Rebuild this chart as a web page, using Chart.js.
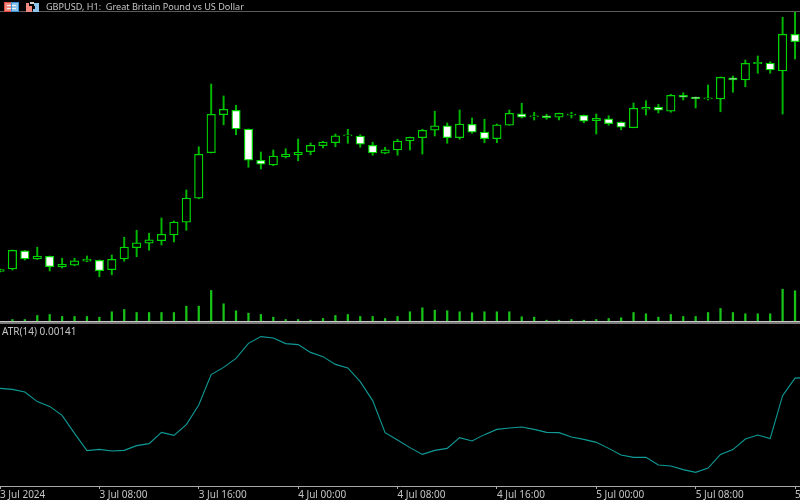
<!DOCTYPE html>
<html><head><meta charset="utf-8">
<style>html,body{margin:0;padding:0;background:#000}canvas{display:block}</style>
<script src="https://cdn.jsdelivr.net/npm/chart.js@4"></script>
</head><body><canvas id="c" width="800" height="500"></canvas>
<script>
const tickBars=[-1,7,15,23,31,39,47,55,63];
const tickLabels=['3 Jul 2024','3 Jul 08:00','3 Jul 16:00','4 Jul 00:00','4 Jul 08:00','4 Jul 16:00','5 Jul 00:00','5 Jul 08:00','5 Jul 16:00'];
const open=[1.26994,1.27004,1.27077,1.27044,1.27055,1.27012,1.27019,1.27035,1.27039,1.27001,1.27044,1.27089,1.27107,1.27117,1.27140,1.27191,1.27287,1.27469,1.27621,1.27639,1.27564,1.27439,1.27420,1.27453,1.27460,1.27473,1.27497,1.27509,1.27536,1.27536,1.27499,1.27467,1.27480,1.27516,1.27529,1.27559,1.27577,1.27529,1.27583,1.27552,1.27525,1.27579,1.27625,1.27612,1.27617,1.27611,1.27619,1.27619,1.27597,1.27605,1.27592,1.27569,1.27643,1.27652,1.27635,1.27699,1.27692,1.27684,1.27684,1.27769,1.27760,1.27825,1.27828,1.27796,1.27943];
const high=[1.27004,1.27080,1.27078,1.27091,1.27056,1.27047,1.27047,1.27056,1.27040,1.27060,1.27131,1.27159,1.27147,1.27208,1.27196,1.27320,1.27493,1.27744,1.27696,1.27659,1.27564,1.27472,1.27480,1.27485,1.27524,1.27508,1.27515,1.27544,1.27563,1.27541,1.27511,1.27491,1.27523,1.27532,1.27563,1.27635,1.27588,1.27640,1.27608,1.27603,1.27584,1.27640,1.27667,1.27631,1.27623,1.27628,1.27631,1.27620,1.27624,1.27617,1.27593,1.27668,1.27677,1.27663,1.27703,1.27709,1.27692,1.27740,1.27772,1.27776,1.27840,1.27856,1.27833,1.28011,1.28032];
const low=[1.26992,1.27000,1.27040,1.27042,1.26996,1.27008,1.27017,1.27033,1.26973,1.26981,1.27035,1.27053,1.27079,1.27100,1.27112,1.27159,1.27285,1.27468,1.27581,1.27541,1.27411,1.27404,1.27417,1.27448,1.27437,1.27461,1.27488,1.27493,1.27507,1.27491,1.27459,1.27465,1.27459,1.27480,1.27464,1.27536,1.27507,1.27523,1.27547,1.27509,1.27509,1.27579,1.27608,1.27600,1.27603,1.27600,1.27608,1.27589,1.27544,1.27579,1.27561,1.27569,1.27620,1.27628,1.27631,1.27680,1.27648,1.27680,1.27633,1.27711,1.27733,1.27787,1.27787,1.27624,1.27844];
const close=[1.27002,1.27079,1.27044,1.27056,1.27013,1.27023,1.27037,1.27044,1.26997,1.27043,1.27092,1.27109,1.27121,1.27143,1.27192,1.27288,1.27463,1.27623,1.27643,1.27564,1.27439,1.27423,1.27456,1.27464,1.27471,1.27499,1.27512,1.27537,1.27541,1.27503,1.27468,1.27481,1.27516,1.27531,1.27559,1.27577,1.27529,1.27584,1.27551,1.27525,1.27581,1.27627,1.27611,1.27617,1.27609,1.27627,1.27624,1.27595,1.27607,1.27585,1.27571,1.27647,1.27651,1.27639,1.27699,1.27691,1.27685,1.27689,1.27771,1.27760,1.27827,1.27831,1.27800,1.27943,1.27913];
const volume=[0,200,200,600,700,500,500,500,430,970,1200,900,900,900,900,1530,1530,3100,1770,1070,830,700,430,200,200,130,300,600,700,500,500,300,500,970,1370,1130,1070,970,870,970,970,970,470,430,130,130,200,130,200,300,370,900,770,430,700,500,500,900,1300,900,770,770,770,3230,3070];
const atr=[0.001323,0.001315,0.001294,0.001217,0.001179,0.001107,0.000963,0.000825,0.000835,0.000822,0.000827,0.000865,0.000881,0.000971,0.000947,0.001033,0.001190,0.001433,0.001491,0.001563,0.001683,0.001737,0.001726,0.001681,0.001673,0.001611,0.001577,0.001515,0.001486,0.001377,0.001225,0.000969,0.000910,0.000849,0.000795,0.000827,0.000843,0.000929,0.000902,0.000953,0.000995,0.001006,0.001014,0.000995,0.000971,0.000969,0.000934,0.000915,0.000891,0.000843,0.000790,0.000771,0.000771,0.000710,0.000702,0.000673,0.000651,0.000686,0.000795,0.000833,0.000918,0.000950,0.000921,0.001265,0.001405,0.001411];
const titleText='GBPUSD, H1:  Great Britain Pound vs US Dollar';
const atrText='ATR(14) 0.00141';

const barX=i=>i-1;
const wicks=high.map((h,i)=>({x:barX(i),y:[low[i],h]}));
const bodies=open.map((o,i)=>({x:barX(i),y:[Math.min(o,close[i]),Math.max(o,close[i])]}));
const vols=volume.map((v,i)=>({x:barX(i),y:v}));
const atrPts=atr.map((v,i)=>({x:barX(i),y:v}));
const GREEN='#00d400';
const UI='"Noto Sans",sans-serif';

const decor={
  id:'decor',
  beforeDraw(ch){const c=ch.ctx;c.save();c.fillStyle='#000';c.fillRect(0,0,800,500);c.restore();},
  afterDraw(ch){
    const c=ch.ctx;c.save();
    c.fillStyle='#5a5a5a';c.fillRect(0,11,800,1);
    c.fillStyle='#c8c8c8';c.fillRect(0,321,800,1);
    c.fillStyle='#7a7a7a';c.fillRect(0,322,800,2);
    // toolbar icons
    c.fillStyle='#f08a80';c.fillRect(5,3,7,9);
    c.fillStyle='#8cc4ee';c.fillRect(12,3,6,9);
    c.fillStyle='#f4f4f4';c.fillRect(7,5,9,1);c.fillRect(7,8,9,1);
    c.strokeStyle='#e04a40';c.strokeRect(4.5,2.5,7,9);
    c.strokeStyle='#3a90d0';c.strokeRect(11.5,2.5,7,9);
    c.fillStyle='#f08a80';c.fillRect(26,3,6,9);
    c.fillStyle='#8cc4ee';c.fillRect(33,3,6,9);
    c.fillStyle='#000';c.fillRect(29,3,5,3);c.fillRect(33,6,2,3);
    c.fillStyle='#d0d0d0';c.fillRect(30,2,4,2);
    // text
    c.textBaseline='middle';c.textAlign='left';c.fillStyle='#c4c4c4';
    c.font='9.1px '+UI;c.fillText(titleText,46,7);
    c.font='10px '+UI;c.fillText(atrText,2,332);
    c.restore();
  }
};

new Chart(document.getElementById('c'),{
  plugins:[decor],
  data:{datasets:[
    {type:'line',data:atrPts,yAxisID:'yAtr',borderColor:'#0f9a96',borderWidth:1.1,pointRadius:0,tension:0,order:1},
    {type:'bar',data:vols,yAxisID:'yVol',backgroundColor:'#18c418',barThickness:1.6,grouped:false,order:2},
    {type:'bar',data:bodies,yAxisID:'y',backgroundColor:open.map((o,i)=>close[i]>=o?'#000':'#fff'),borderColor:GREEN,borderWidth:1.3,borderSkipped:false,barThickness:8.5,grouped:false,order:3},
    {type:'bar',data:wicks,yAxisID:'y',backgroundColor:'#00b800',barThickness:1.3,grouped:false,order:4}
  ]},
  options:{
    responsive:false,animation:false,
    layout:{padding:{top:12,left:0,right:0,bottom:0},autoPadding:false},
    plugins:{legend:{display:false},tooltip:{enabled:false},title:{display:false}},
    scales:{
      x:{type:'linear',offset:false,min:-1,max:63.4,
        afterBuildTicks(s){s.ticks=tickBars.map(v=>({value:v}));},
        afterFit(s){s.height=14;s.paddingLeft=0;s.paddingRight=0;},
        border:{color:'#a8a8a8',width:1},
        grid:{offset:false,drawOnChartArea:false,drawTicks:true,tickLength:3,tickColor:'#a8a8a8'},
        ticks:{autoSkip:false,maxRotation:0,minRotation:0,align:'start',padding:0,color:'#c4c4c4',font:{family:UI,size:10},
          callback:v=>tickLabels[tickBars.indexOf(v)]}},
      y:{display:false,min:1.26136,max:1.28032},
      yVol:{display:false,min:-16450,max:30950},
      yAtr:{display:false,min:0.000542,max:0.004334}
    }
  }
});
</script></body></html>
